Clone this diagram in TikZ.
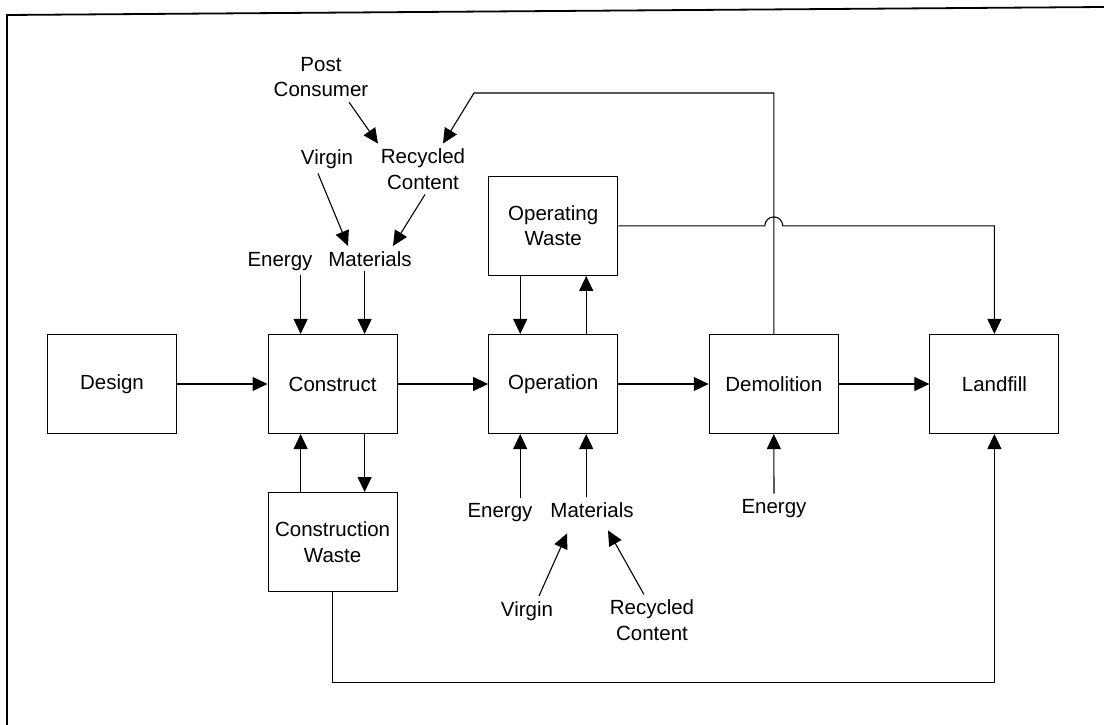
\documentclass[tikz,border=0pt]{standalone}
\usepackage{fontspec}
\setmainfont{Liberation Sans}
\usetikzlibrary{arrows.meta,positioning}

\begin{document}
\begin{tikzpicture}[
  x=1pt, y=-1pt,
  >={Triangle[length=15pt,width=14pt]},
  node distance=90.5pt,
  stage/.style={draw,line width=1.1pt,minimum width=129pt,minimum height=99pt,
    align=center,font=\fontsize{20.5pt}{25.5pt}\selectfont},
  lbl/.style={anchor=base,inner sep=5pt,font=\fontsize{20.5pt}{25.5pt}\selectfont},
  lbltwo/.style={align=center,inner sep=5pt,font=\fontsize{20.5pt}{25.5pt}\selectfont},
  flow/.style={->,line width=1.1pt}
]
  \useasboundingbox (0,0) rectangle (1104,725);
  \draw[line width=1.8pt] (7,725) -- (7,15) -- (1104,7);

  % life cycle stages
  \node[stage] (design) at (112,384) {Design};
  \node[stage,right=of design] (construct) {Construct};
  \node[stage,right=of construct] (operation) {Operation};
  \node[stage,right=of operation] (demolition) {Demolition};
  \node[stage,right=of demolition] (landfill) {Landfill};
  \node[stage,below=58pt of construct] (conwaste) {Construction\\Waste};
  \node[stage,above=58pt of operation] (opwaste) {Operating\\Waste};

  % inputs for construction
  \node[lbltwo] (postcons) at (321,77) {Post\\Consumer};
  \node[lbl] (virgin) at (327,164) {Virgin};
  \node[lbltwo] (recycled) at (423,169) {Recycled\\Content};
  \node[lbl] (energy) at (280,266) {Energy};
  \node[lbl] (materials) at (370,266) {Materials};

  % inputs for operation
  \node[lbl] (openergy) at (500,517) {Energy};
  \node[lbl] (opmaterials) at (592,517) {Materials};
  \node[lbl] (opvirgin) at (527,616) {Virgin};
  \node[lbltwo] (oprecycled) at (652,620) {Recycled\\Content};

  % input for demolition
  \node[lbl] (demenergy) at (774,513) {Energy};

  \coordinate (fbturn) at (474,93);

  % main chain
  \draw[flow] (design) -- (construct);
  \draw[flow] (construct) -- (operation);
  \draw[flow] (operation) -- (demolition);
  \draw[flow] (demolition) -- (landfill);

  % material sources
  \draw[flow] ([xshift=28pt]postcons.south) -- ([xshift=-45pt]recycled.north);
  \draw[flow] ([xshift=-9pt]virgin.south) -- ([xshift=-22pt]materials.north);
  \draw[flow] ([xshift=2pt]recycled.south) -- ([xshift=23pt]materials.north);
  \draw[flow] ([xshift=-32pt]construct.north |- energy.south) -- ([xshift=-32pt]construct.north);
  \draw[flow] ([xshift=32pt]construct.north |- materials.south) -- ([xshift=32pt]construct.north);

  \draw[flow] ([xshift=-33pt]operation.south |- openergy.north) -- ([xshift=-33pt]operation.south);
  \draw[flow] ([xshift=33pt]operation.south |- opmaterials.north) -- ([xshift=33pt]operation.south);
  \draw[flow] ([xshift=12pt]opvirgin.north) -- ([xshift=-25pt,yshift=-11pt]opmaterials.south);
  \draw[flow] ([xshift=-8pt]oprecycled.north) -- ([xshift=16pt,yshift=-8pt]opmaterials.south);
  \draw[flow] (demenergy.north) -- (demolition.south);

  % waste loops
  \draw[flow] ([xshift=-32pt]conwaste.north) -- ([xshift=-32pt]construct.south);
  \draw[flow] ([xshift=32pt]construct.south) -- ([xshift=32pt]conwaste.north);
  \draw[flow] ([xshift=-33pt]opwaste.south) -- ([xshift=-33pt]operation.north);
  \draw[flow] ([xshift=33pt]operation.north) -- ([xshift=33pt]opwaste.south);

  % recycling and disposal
  \draw[flow] (demolition.north) |- (fbturn) -- ([xshift=20pt]recycled.north);
  \draw[flow] (opwaste.east) -- ([xshift=-9pt]opwaste.east -| demolition.north)
    arc[start angle=180,end angle=0,radius=9pt] -| (landfill.north);
  \draw[flow] (conwaste.south) -- ++(0,90) -| (landfill.south);
\end{tikzpicture}
\end{document}
